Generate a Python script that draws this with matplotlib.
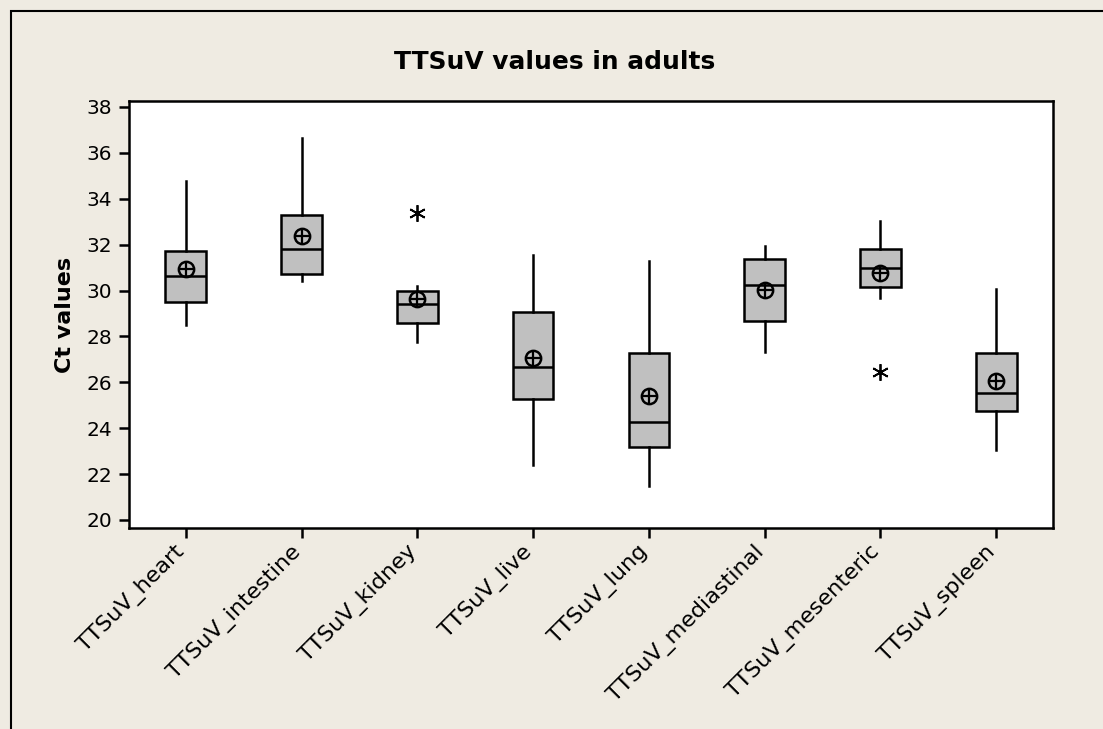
import matplotlib
matplotlib.use("Agg")
import matplotlib.pyplot as plt
from matplotlib.patches import Rectangle
from matplotlib.transforms import ScaledTranslation

# Box plot data (Ct values)
labels = ['TTSuV_heart', 'TTSuV_intestine', 'TTSuV_kidney', 'TTSuV_live',
          'TTSuV_lung', 'TTSuV_mediastinal', 'TTSuV_mesenteric', 'TTSuV_spleen']
whisker_low = [28.51, 30.41, 27.77, 22.39, 21.48, 27.33, 29.66, 23.05]
q1 = [29.50, 30.73, 28.58, 25.27, 23.19, 28.67, 30.14, 24.76]
median = [30.65, 31.81, 29.41, 26.68, 24.28, 30.24, 30.97, 25.52]
q3 = [31.72, 33.29, 29.98, 29.08, 27.26, 31.37, 31.80, 27.26]
whisker_high = [34.79, 36.66, 30.21, 31.55, 31.29, 31.96, 33.03, 30.05]
means = [30.92, 32.39, 29.62, 27.07, 25.40, 30.02, 30.78, 26.06]
outliers = [[], [], [33.39], [], [], [], [26.46], []]

bg = '#EFEBE2'

fig = plt.figure(figsize=(11.03, 7.29), dpi=100, facecolor=bg)
ax = fig.add_axes([129 / 1103, 1 - 528 / 729, (1053 - 129) / 1103, (528 - 101) / 729])
ax.set_facecolor('white')

# outer frame of the graph region (only left and top edges are visible)
fig.patches.append(Rectangle((11 / 1103, -0.1), 1.2, 1 - 11 / 729 + 0.1,
                             transform=fig.transFigure, fill=False,
                             edgecolor='black', linewidth=1.5, zorder=0))

stats = []
for i in range(len(labels)):
    stats.append({'label': labels[i], 'whislo': whisker_low[i], 'q1': q1[i],
                  'med': median[i], 'q3': q3[i], 'whishi': whisker_high[i],
                  'mean': means[i], 'fliers': outliers[i]})

positions = list(range(1, len(labels) + 1))
ax.bxp(stats, positions=positions, widths=0.35, patch_artist=True,
       showcaps=False, showmeans=False,
       boxprops=dict(facecolor='#C0C0C0', edgecolor='black', linewidth=1.8),
       medianprops=dict(color='black', linewidth=1.8),
       whiskerprops=dict(color='black', linewidth=1.8),
       flierprops=dict(marker=(6, 2, 0), markersize=12, markeredgecolor='black',
                       markeredgewidth=1.3, linestyle='none'))

# mean symbol: circle with a cross
ax.plot(positions, means, 'o', markersize=11, markerfacecolor='none',
        markeredgecolor='black', markeredgewidth=1.8, zorder=5)
ax.plot(positions, means, '+', markersize=11, markeredgecolor='black',
        markeredgewidth=1.6, zorder=5)

ax.set_xlim(0.51, 8.49)
ax.set_ylim(19.65, 38.26)
ax.set_yticks(range(20, 39, 2))
ax.set_xticks(positions)
ax.set_xticklabels(labels, rotation=45, ha='right', va='center',
                   rotation_mode='anchor', fontsize=16)
ax.tick_params(direction='out', length=7, width=1.8, pad=5)
ax.tick_params(axis='y', labelsize=14.5)
ax.tick_params(axis='x', pad=8)
shift = ScaledTranslation(-4 / 100, 0, fig.dpi_scale_trans)
for lab in ax.get_xticklabels():
    lab.set_transform(lab.get_transform() + shift)

for s in ax.spines.values():
    s.set_linewidth(1.8)

ax.set_ylabel('Ct values', fontsize=16, fontweight='bold', labelpad=8)
fig.text(555 / 1103, 1 - 62 / 729, 'TTSuV values in adults',
         ha='center', va='center', fontsize=17.9, fontweight='bold')

fig.savefig('out.png', dpi=100, facecolor=bg)
